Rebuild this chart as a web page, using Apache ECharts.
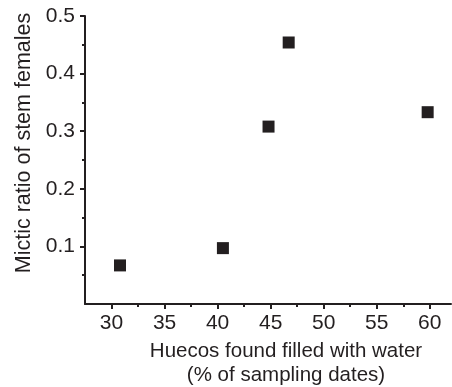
<!DOCTYPE html>
<html>
<head>
<meta charset="utf-8">
<script src="https://cdn.jsdelivr.net/npm/echarts@6/dist/echarts.min.js"></script>
<style>
  html, body { margin: 0; padding: 0; background: #fff; }
  #chart { width: 452px; height: 387px; }
</style>
</head>
<body>
<div id="chart"></div>
<script>
// huecos filled with water (% of sampling dates) vs mictic ratio
const waterPct = [30.8, 40.5, 44.8, 46.7, 59.8];
const micticRatio = [0.067, 0.097, 0.308, 0.454, 0.333];

const xMajorTicks = [30, 35, 40, 45, 50, 55, 60];
const xMinorTicks = [32.5, 37.5, 42.5, 47.5, 52.5, 57.5];
const yMajorTicks = [0.1, 0.2, 0.3, 0.4, 0.5];
const yMinorTicks = [0.05, 0.15, 0.25, 0.35, 0.45];

const ink = '#231f20';
const font = 'Liberation Sans, Arial, sans-serif';

const chart = echarts.init(document.getElementById('chart'));

const option = {
  animation: false,
  grid: { left: 85, right: 1, top: 16, bottom: 83, outerBoundsMode: 'none' },
  xAxis: [
    {
      type: 'value',
      min: 27.5,
      max: 62,
      name: 'Huecos found filled with water\n(% of sampling dates)',
      nameLocation: 'middle',
      nameGap: 28,
      nameTextStyle: {
        color: ink, fontSize: 20.5, fontFamily: font, lineHeight: 24,
        padding: [0, 0, 0, 36]
      },
      splitLine: { show: false },
      axisLine: { lineStyle: { color: ink, width: 2 } },
      axisTick: { customValues: xMajorTicks, length: 5, lineStyle: { color: ink, width: 2 } },
      axisLabel: { customValues: xMajorTicks, color: ink, fontSize: 21, fontFamily: font, margin: 9 }
    },
    {
      type: 'value',
      min: 27.5,
      max: 62,
      position: 'bottom',
      splitLine: { show: false },
      axisLine: { show: false },
      axisTick: { customValues: xMinorTicks, length: 3, lineStyle: { color: ink, width: 2 } },
      axisLabel: { show: false }
    }
  ],
  yAxis: [
    {
      type: 'value',
      min: 0,
      max: 0.5,
      name: 'Mictic ratio of stem females',
      nameLocation: 'middle',
      nameGap: 50,
      nameTextStyle: {
        color: ink, fontSize: 21.5, fontFamily: font,
        padding: [0, 0, 0, 34]
      },
      splitLine: { show: false },
      axisLine: { show: true, lineStyle: { color: ink, width: 2 } },
      axisTick: { show: true, customValues: yMajorTicks, length: 5, lineStyle: { color: ink, width: 2 } },
      axisLabel: {
        customValues: yMajorTicks, color: ink, fontSize: 21, fontFamily: font, margin: 10,
        formatter: v => v.toFixed(1)
      }
    },
    {
      type: 'value',
      min: 0,
      max: 0.5,
      position: 'left',
      splitLine: { show: false },
      axisLine: { show: false },
      axisTick: { show: true, customValues: yMinorTicks, length: 3, lineStyle: { color: ink, width: 2 } },
      axisLabel: { show: false }
    }
  ],
  series: [
    {
      type: 'scatter',
      symbol: 'rect',
      symbolSize: 12,
      itemStyle: { color: ink, opacity: 1 },
      data: waterPct.map((x, i) => [x, micticRatio[i]])
    }
  ]
};

chart.setOption(option);
</script>
</body>
</html>
